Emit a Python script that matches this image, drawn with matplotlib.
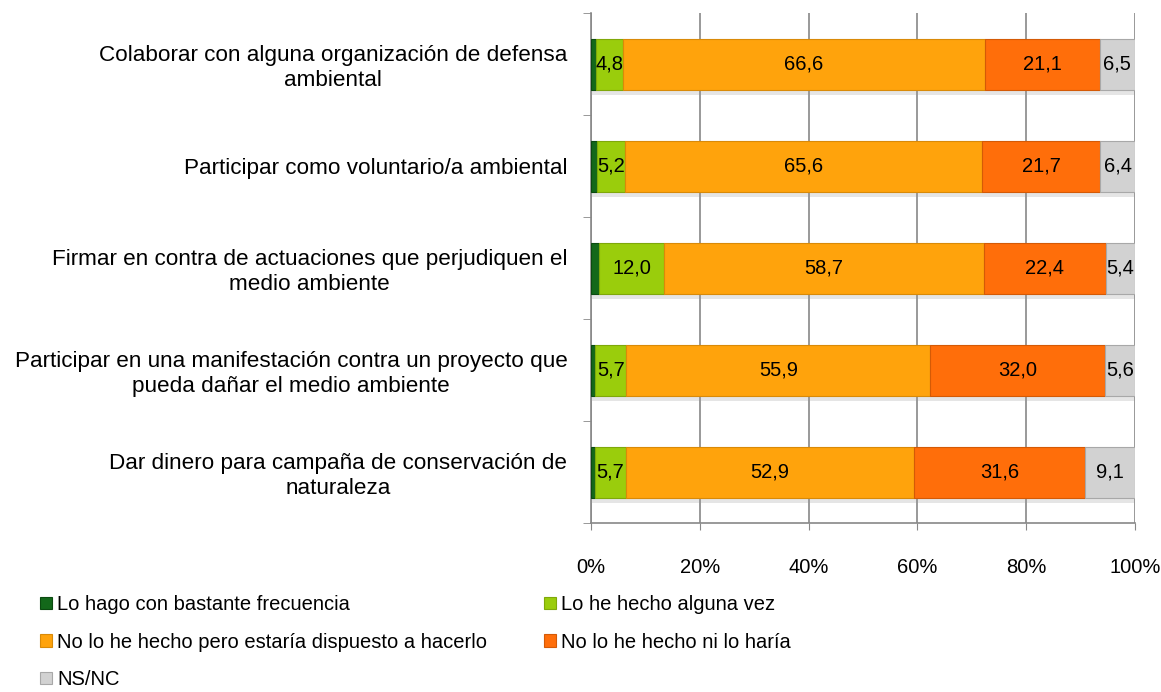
import matplotlib
matplotlib.use("Agg")
import matplotlib.pyplot as plt
import matplotlib.patheffects as pe
from matplotlib.patches import Patch
import numpy as np

plt.rcParams['font.family'] = ['Liberation Sans', 'DejaVu Sans']

categories = [
    "Colaborar con alguna organización de defensa\nambiental",
    "Participar como voluntario/a ambiental",
    "Firmar en contra de actuaciones que perjudiquen el\nmedio ambiente",
    "Participar en una manifestación contra un proyecto que\npueda dañar el medio ambiente",
    "Dar dinero para campaña de conservación de\nnaturaleza",
]
series_names = [
    "Lo hago con bastante frecuencia",
    "Lo he hecho alguna vez",
    "No lo he hecho pero estaría dispuesto a hacerlo",
    "No lo he hecho ni lo haría",
    "NS/NC",
]
frecuencia = [1.0, 1.1, 1.5, 0.8, 0.7]
alguna_vez = [4.8, 5.2, 12.0, 5.7, 5.7]
dispuesto = [66.6, 65.6, 58.7, 55.9, 52.9]
no_haria = [21.1, 21.7, 22.4, 32.0, 31.6]
nsnc = [6.5, 6.4, 5.4, 5.6, 9.1]
xticks = [0, 20, 40, 60, 80, 100]
xticklabels = ["0%", "20%", "40%", "60%", "80%", "100%"]

colors = ["#13681A", "#9ACD0C", "#FFA30C", "#FF6E0A", "#D2D2D2"]
edge_colors = ["#0B4A10", "#7FA80A", "#D98A08", "#D45A06", "#A8A8A8"]
label_series = [False, True, True, True, True]

fig = plt.figure(figsize=(11.61, 6.92), dpi=100)
ax = fig.add_axes([591/1161, 1 - 523/692, (1135 - 591)/1161, (523 - 13)/692])

data = [frecuencia, alguna_vez, dispuesto, no_haria, nsnc]
ypos = np.arange(len(categories))
left = np.zeros(len(categories))
for i, vals in enumerate(data):
    vals = np.array(vals)
    bars = ax.barh(ypos, vals, left=left, height=0.5, color=colors[i],
                   edgecolor=edge_colors[i], linewidth=0.8, zorder=3)
    for b in bars:
        b.set_path_effects([pe.SimplePatchShadow(offset=(0, -4), shadow_rgbFace='#9a9a9a', alpha=0.25), pe.Normal()])
    if label_series[i]:
        for y, l, v in zip(ypos, left, vals):
            ax.text(l + v / 2, y, f"{v:.1f}".replace('.', ','), ha='center', va='center',
                    fontsize=14.5, color='black', zorder=5)
    left = left + vals

ax.set_xlim(0, 100)
ax.set_ylim(len(categories) - 0.5, -0.5)
ax.set_xticks(xticks)
ax.set_xticklabels(xticklabels, fontsize=14.5)
ax.set_yticks(ypos)
ax.set_yticklabels(categories, fontsize=16.2)
for t in ax.get_yticklabels():
    t.set_multialignment('center')
ax.set_yticks(np.arange(-0.5, len(categories), 1.0), minor=True)
ax.tick_params(axis='y', which='major', length=0, pad=17)
ax.tick_params(axis='y', which='minor', length=6, color='#888888', direction='out')
ax.tick_params(axis='x', which='major', length=5, color='#888888', direction='out', pad=20)

ax.grid(axis='x', color='#888888', linewidth=1.2, zorder=0)
ax.set_axisbelow(True)
for s in ['top', 'right']:
    ax.spines[s].set_visible(False)
for s in ['left', 'bottom']:
    ax.spines[s].set_color('#888888')
    ax.spines[s].set_linewidth(1.2)

handles = [Patch(facecolor=c, edgecolor=e, linewidth=0.8) for c, e in zip(colors, edge_colors)]
leg_kw = dict(loc='upper left', frameon=False, fontsize=14.5, handlelength=0.6, handleheight=0.6,
              handletextpad=0.25, labelspacing=0.92, borderaxespad=0, borderpad=0)
leg1 = fig.legend([handles[0], handles[2], handles[4]],
                  [series_names[0], series_names[2], series_names[4]],
                  bbox_to_anchor=(40/1161, 1 - 595/692), **leg_kw)
leg2 = fig.legend([handles[1], handles[3]],
                  [series_names[1], series_names[3]],
                  bbox_to_anchor=(544/1161, 1 - 595/692), **leg_kw)

fig.savefig("out.png", dpi=100)
